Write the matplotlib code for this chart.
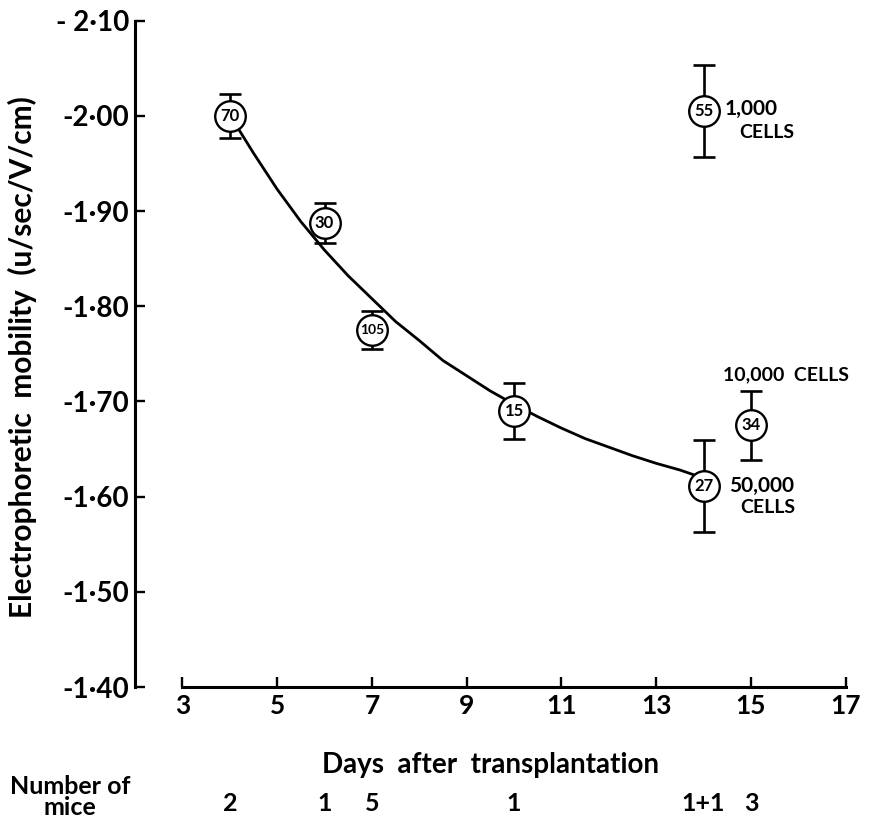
import matplotlib.pyplot as plt
import matplotlib.transforms as mtransforms

# main series (on the fitted curve)
days = [4, 6, 7, 10, 14]
mobility = [-2.000, -1.887, -1.775, -1.690, -1.611]
errors = [0.023, 0.021, 0.020, 0.029, 0.048]
counts = ["70", "30", "105", "15", "27"]

# separate inoculum groups
extra_days = [14, 15]
extra_mobility = [-2.005, -1.675]
extra_errors = [0.048, 0.036]
extra_counts = ["55", "34"]

# fitted curve
curve_days = [4.2, 4.5, 5.0, 5.5, 6.0, 6.5, 7.0, 7.5, 8.0, 8.5, 9.0, 9.5,
              10.0, 10.5, 11.0, 11.5, 12.0, 12.5, 13.0, 13.5, 13.85]
curve_mobility = [-1.985, -1.961, -1.923, -1.889, -1.859, -1.832, -1.808,
                  -1.784, -1.764, -1.743, -1.727, -1.711, -1.697, -1.684,
                  -1.672, -1.661, -1.652, -1.643, -1.635, -1.628, -1.622]

xticks = [3, 5, 7, 9, 11, 13, 15, 17]
yticks = [-2.10, -2.00, -1.90, -1.80, -1.70, -1.60, -1.50, -1.40]
ytick_labels = ["- 2·10", "-2·00", "-1·90", "-1·80", "-1·70", "-1·60", "-1·50", "-1·40"]

mice_days = [4, 6, 7, 10, 14, 15]
mice_labels = ["2", "1", "5", "1", "1+1", "3"]

plt.rcParams['font.family'] = ['Lato', 'DejaVu Sans']
plt.rcParams['font.weight'] = 'bold'

fig = plt.figure(figsize=(8.7, 8.22), dpi=100)
ax = fig.add_axes([135 / 870, 1 - 687 / 822, (848 - 135) / 870, (687 - 20.7) / 822])

ax.set_xlim(2.0, 17.05)
ax.set_ylim(-1.40, -2.10)

# curve
ax.plot(curve_days, curve_mobility, color="black", lw=2.0, zorder=2)

# error bars + circles
all_days = days + extra_days
all_mob = mobility + extra_mobility
all_err = errors + extra_errors
all_counts = counts + extra_counts
ax.errorbar(all_days, all_mob, yerr=all_err, fmt="none", ecolor="black",
            elinewidth=1.9, capsize=8, capthick=1.9, zorder=3)
ax.plot(all_days, all_mob, "o", ms=22, mfc="white", mec="black", mew=1.7, zorder=4)
for d, m, c in zip(all_days, all_mob, all_counts):
    ax.text(d, m, c, ha="center", va="center", fontsize=10 if len(c) > 2 else 12,
            zorder=5)

# annotations
ax.text(14.45, -2.007, "1,000", fontsize=15, va="center", ha="left")
ax.text(14.75, -1.983, "CELLS", fontsize=14, va="center", ha="left")
ax.text(14.42, -1.728, "10,000  CELLS", fontsize=14, va="center", ha="left")
ax.text(14.55, -1.611, "50,000", fontsize=15, va="center", ha="left")
ax.text(14.78, -1.589, "CELLS", fontsize=14, va="center", ha="left")

# spines
for s in ["top", "right"]:
    ax.spines[s].set_visible(False)
ax.spines["left"].set_linewidth(2.2)
ax.spines["bottom"].set_linewidth(2.2)
ax.spines["left"].set_bounds(-2.10, -1.40)
ax.spines["bottom"].set_bounds(3, 17)

ax.set_xticks(xticks)
ax.set_xticklabels([str(t) for t in xticks])
ax.set_yticks(yticks)
ax.set_yticklabels(ytick_labels)
ax.tick_params(axis="both", direction="in", length=7, width=1.7, labelsize=19, pad=5)
ax.tick_params(axis="y", labelsize=20, pad=4)

# axis titles
fig.text(22 / 870, 1 - 357 / 822, "Electrophoretic  mobility  (u/sec/V/cm)",
         rotation=90, ha="center", va="center", fontsize=21.5)
fig.text(491 / 870, 1 - 765 / 822, "Days  after  transplantation",
         ha="center", va="center", fontsize=20)
fig.text(70 / 870, 1 - 797 / 822, "Number of\nmice", ha="center", va="center",
         fontsize=18, linespacing=0.85)

# number of mice row
trans = mtransforms.blended_transform_factory(ax.transData, fig.transFigure)
for d, lab in zip(mice_days, mice_labels):
    ax.text(d, 1 - 803 / 822, lab, transform=trans, ha="center", va="center",
            fontsize=18)

fig.savefig("out.png", dpi=100)
